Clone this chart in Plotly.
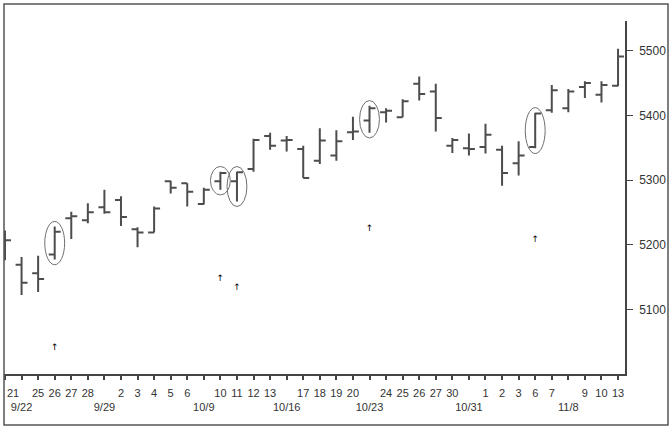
import plotly.graph_objects as go

# ---- data ----
day_labels = ["21", "", "25", "26", "27", "28", "", "2", "3", "4", "5", "6", "",
              "10", "11", "12", "13", "", "17", "18", "19", "20", "", "24", "25",
              "26", "27", "30", "", "1", "2", "3", "6", "7", "", "9", "10", "13"]
week_labels = {1: "9/22", 6: "9/29", 12: "10/9", 17: "10/16", 22: "10/23",
               28: "10/31", 34: "11/8"}

open_ = [5215, 5169, 5156, 5185, 5241, 5238, 5258, 5269, 5224, 5219, 5298, 5295, 5263,
         5298, 5298, 5317, 5368, 5361, 5348, 5330, 5338, 5374, 5392, 5405, 5397, 5449,
         5437, 5353, 5349, 5351, 5347, 5326, 5351, 5408, 5411, 5444, 5432, 5446]
high = [5222, 5181, 5183, 5228, 5251, 5264, 5285, 5275, 5227, 5259, 5299, 5295, 5288,
        5313, 5313, 5364, 5373, 5368, 5353, 5380, 5377, 5398, 5415, 5411, 5425, 5460,
        5449, 5365, 5372, 5387, 5353, 5360, 5404, 5447, 5441, 5453, 5453, 5503]
low = [5176, 5122, 5127, 5177, 5209, 5233, 5248, 5229, 5196, 5219, 5279, 5259, 5262,
       5285, 5267, 5313, 5347, 5344, 5303, 5325, 5330, 5362, 5373, 5389, 5397, 5423,
       5375, 5342, 5338, 5341, 5291, 5307, 5349, 5404, 5405, 5427, 5420, 5445]
close = [5207, 5141, 5147, 5220, 5244, 5250, 5250, 5243, 5219, 5256, 5288, 5282, 5285,
         5311, 5312, 5362, 5353, 5362, 5303, 5361, 5360, 5375, 5411, 5407, 5422, 5433,
         5396, 5362, 5348, 5370, 5311, 5338, 5403, 5439, 5437, 5450, 5447, 5491]

signal_idx = [3, 13, 14, 22, 32]
signal_values = [5040, 5147, 5134, 5224, 5207]

y_ticks = [5100, 5200, 5300, 5400, 5500]

# ---- figure ----
x = list(range(len(day_labels)))
# first label sits at the very left edge: drawn as a left-anchored annotation instead
ticktext = [("<br>" + week_labels[i]) if i in week_labels else
            ("" if i == 0 else day_labels[i]) for i in x]

BAR = "#4d4d4d"
FONT = "Liberation Sans Narrow, Arial Narrow, Liberation Sans, Arial, sans-serif"

fig = go.Figure()
fig.add_trace(go.Ohlc(
    x=x, open=open_, high=high, low=low, close=close,
    increasing=dict(line=dict(color=BAR, width=2)),
    decreasing=dict(line=dict(color=BAR, width=2)),
    tickwidth=0.36, hoverinfo="skip", showlegend=False,
))
fig.add_trace(go.Scatter(
    x=signal_idx, y=signal_values, mode="text", text=["↑"] * len(signal_idx),
    textfont=dict(size=9, color="#000000", family="DejaVu Sans"),
    hoverinfo="skip", showlegend=False,
))

# ellipses around signal bars
for i in signal_idx:
    fig.add_shape(type="circle", xref="x", yref="y",
                  x0=i - 0.6, x1=i + 0.6, y0=low[i] - 8, y1=high[i] + 8,
                  line=dict(color="#707070", width=1))

# outer frame
W, H = 670, 426
ml, mr, mt, mb = 4, 45, 21, 52
pw, ph = W - ml - mr, H - mt - mb
fig.add_shape(type="rect", xref="paper", yref="paper",
              x0=0, x1=(668 - ml) / pw, y0=-(425 - (H - mb)) / ph, y1=(H - mb - 4) / ph,
              line=dict(color="#555555", width=1.5))

fig.add_annotation(x=x[0], y=0, xref="x", yref="paper", text=day_labels[0],
                   showarrow=False, xanchor="left", yanchor="middle", yshift=-19,
                   font=dict(size=11, color="#333333", family=FONT))

fig.update_layout(
    width=W, height=H,
    margin=dict(l=ml, r=mr, t=mt, b=mb, autoexpand=False),
    paper_bgcolor="white", plot_bgcolor="white",
    font=dict(family=FONT, color="#333333"),
    showlegend=False,
    xaxis=dict(
        range=[-0.06, 37.42], tickmode="array", tickvals=x, ticktext=ticktext,
        tickangle=0, automargin=False, ticklabelstandoff=4,
        showgrid=False, zeroline=False, showline=True, linecolor="#444444", linewidth=1.5,
        ticks="outside", ticklen=4, tickcolor="#444444", tickwidth=1.5,
        tickfont=dict(size=11, color="#333333", family=FONT),
        rangeslider=dict(visible=False), fixedrange=True,
    ),
    yaxis=dict(
        side="right", range=[5000, 5546], tickmode="array", tickvals=y_ticks,
        automargin=False, ticklabelstandoff=4,
        showgrid=False, zeroline=False, showline=True, linecolor="#444444", linewidth=1.5,
        ticks="outside", ticklen=6, tickcolor="#444444", tickwidth=1,
        tickfont=dict(size=12, color="#333333", family=FONT),
        fixedrange=True,
    ),
)

fig.write_html(
    "out.html",
    config={"displayModeBar": False},
    post_script="document.body.style.margin='0';document.body.style.overflow='hidden';",
)
